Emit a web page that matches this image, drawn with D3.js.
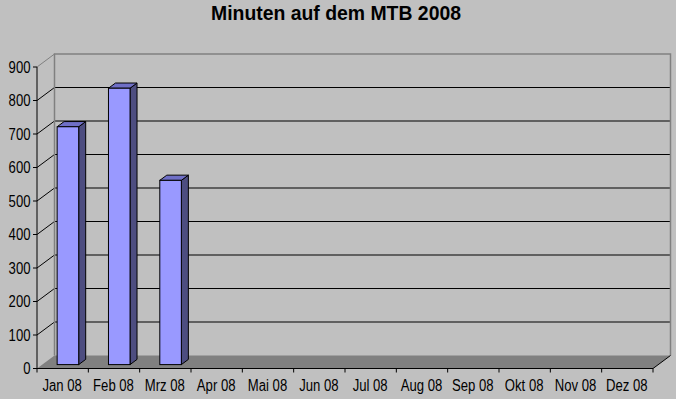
<!DOCTYPE html>
<html>
<head>
<meta charset="utf-8">
<script src="https://cdn.jsdelivr.net/npm/d3@7"></script>
<style>
    body { margin: 0; background: #c0c0c0; }
    svg { display: block; }
</style>
</head>
<body>
<div id="chart"></div>
<script>
FONT_SIZE = 16;
// the original uses a tall, condensed face; squeeze the installed one
TEXT_SQUEEZE = 0.82;

// data
const months = ['Jan 08', 'Feb 08', 'Mrz 08', 'Apr 08', 'Mai 08', 'Jun 08',
                'Jul 08', 'Aug 08', 'Sep 08', 'Okt 08', 'Nov 08', 'Dez 08'];
const minutes = [710, 825, 550, 0, 0, 0, 0, 0, 0, 0, 0, 0];
const yTicks = [0, 100, 200, 300, 400, 500, 600, 700, 800, 900];
const title = 'Minuten auf dem MTB 2008';

const LABEL_FONT = '"Liberation Sans", Arial, sans-serif';

function plotChart(width = 676, height = 399) {
    // depth of the 3d box (back wall offset)
    const depth = { dx: 17.5, dy: 13 };
    // bar sits between these fractions of the depth
    const barDepth = [0.3, 0.7];

    const svg = d3.select('#chart')
        .append('svg')
        .attr('width', width)
        .attr('height', height);

    svg.append('rect')
        .attr('width', width)
        .attr('height', height)
        .attr('fill', '#c0c0c0');

    const x = d3.scaleBand().domain(months).range([37, 653]);
    const y = d3.scaleLinear().domain([0, 900]).range([368.5, 67]);

    const left = x.range()[0], right = x.range()[1];
    const top = y(900), bottom = y(0);

    // floor
    svg.append('path')
        .attr('d', `M${left},${bottom} L${right},${bottom} L${right + depth.dx},${bottom - depth.dy} L${left + depth.dx},${bottom - depth.dy} Z`)
        .attr('fill', '#808080');

    // back wall gridlines
    svg.append('g')
        .selectAll('line')
        .data(yTicks.filter(v => v > 0 && v < 900))
        .enter()
        .append('line')
        .attr('x1', left + depth.dx)
        .attr('x2', right + depth.dx)
        .attr('y1', d => y(d) - depth.dy)
        .attr('y2', d => y(d) - depth.dy)
        .attr('stroke', 'black')
        .attr('stroke-width', 1.2);

    // side wall diagonals
    svg.append('g')
        .selectAll('line')
        .data(yTicks.filter(v => v > 0))
        .enter()
        .append('line')
        .attr('x1', left)
        .attr('x2', left + depth.dx)
        .attr('y1', d => y(d))
        .attr('y2', d => y(d) - depth.dy)
        .attr('stroke', d => d === 900 ? '#808080' : 'black')
        .attr('stroke-width', 1);

    // wall border
    svg.append('path')
        .attr('d', `M${left + depth.dx},${bottom - depth.dy} L${left + depth.dx},${top - depth.dy} L${right + depth.dx},${top - depth.dy} L${right + depth.dx},${bottom - depth.dy}`)
        .attr('fill', 'none')
        .attr('stroke', '#808080')
        .attr('stroke-width', 1.5);

    // floor right edge
    svg.append('line')
        .attr('x1', right).attr('y1', bottom)
        .attr('x2', right + depth.dx).attr('y2', bottom - depth.dy)
        .attr('stroke', 'black');

    // bars
    const barW = x.bandwidth() * 0.42;
    const fx = depth.dx * barDepth[0], fy = depth.dy * barDepth[0];
    const bx = depth.dx * barDepth[1], by = depth.dy * barDepth[1];

    const bars = svg.append('g')
        .selectAll('g')
        .data(months.map((m, i) => ({ month: m, value: minutes[i] })).filter(d => d.value > 0))
        .enter()
        .append('g');

    const x0 = d => x(d.month) + (x.bandwidth() - barW) / 2 + fx;
    const x1 = d => x0(d) + barW;
    const yt = d => y(d.value) - fy;
    const yb = d => bottom - fy;

    // side face
    bars.append('path')
        .attr('d', d => `M${x1(d)},${yb(d)} L${x1(d)},${yt(d)} L${x1(d) + bx - fx},${yt(d) - (by - fy)} L${x1(d) + bx - fx},${yb(d) - (by - fy)} Z`)
        .attr('fill', '#4d4d80')
        .attr('stroke', 'black')
        .attr('stroke-width', 1);

    // top face
    bars.append('path')
        .attr('d', d => `M${x0(d)},${yt(d)} L${x1(d)},${yt(d)} L${x1(d) + bx - fx},${yt(d) - (by - fy)} L${x0(d) + bx - fx},${yt(d) - (by - fy)} Z`)
        .attr('fill', '#6f6fc6')
        .attr('stroke', 'black')
        .attr('stroke-width', 1);

    // front face
    bars.append('rect')
        .attr('x', x0)
        .attr('y', yt)
        .attr('width', barW)
        .attr('height', d => yb(d) - yt(d))
        .attr('fill', '#9999ff')
        .attr('stroke', 'black')
        .attr('stroke-width', 1);

    // y axis
    const yAxis = svg.append('g');
    yAxis.append('line')
        .attr('x1', left).attr('x2', left)
        .attr('y1', top).attr('y2', bottom)
        .attr('stroke', 'black');
    yAxis.selectAll('.tick')
        .data(yTicks)
        .enter()
        .append('line')
        .attr('x1', left - 4).attr('x2', left)
        .attr('y1', d => y(d)).attr('y2', d => y(d))
        .attr('stroke', 'black');
    yAxis.selectAll('text')
        .data(yTicks)
        .enter()
        .append('text')
        .text(d => d)
        .attr('transform', d => `translate(${left - 6.5},${y(d) + 5.8}) scale(${TEXT_SQUEEZE},1)`)
        .attr('text-anchor', 'end')
        .style('font-family', LABEL_FONT)
        .style('font-size', `${FONT_SIZE}px`);

    // x axis
    const xAxis = svg.append('g');
    xAxis.append('line')
        .attr('x1', left).attr('x2', right)
        .attr('y1', bottom).attr('y2', bottom)
        .attr('stroke', 'black');
    xAxis.selectAll('.tick')
        .data(months.map(m => x(m)).concat([right]))
        .enter()
        .append('line')
        .attr('x1', d => d).attr('x2', d => d)
        .attr('y1', bottom).attr('y2', bottom + 4)
        .attr('stroke', 'black');
    xAxis.selectAll('text')
        .data(months)
        .enter()
        .append('text')
        .text(d => d)
        .attr('transform', d => `translate(${x(d) + x.bandwidth() / 2 - 0.5},391) scale(${TEXT_SQUEEZE},1)`)
        .attr('text-anchor', 'middle')
        .style('font-family', LABEL_FONT)
        .style('font-size', `${FONT_SIZE}px`);

    // title
    svg.append('text')
        .text(title)
        .attr('x', 336)
        .attr('y', 20)
        .attr('text-anchor', 'middle')
        .attr('textLength', 250)
        .attr('lengthAdjust', 'spacingAndGlyphs')
        .style('font-family', LABEL_FONT)
        .style('font-weight', 'bold')
        .style('font-size', '20px');
}

plotChart();
</script>
</body>
</html>
